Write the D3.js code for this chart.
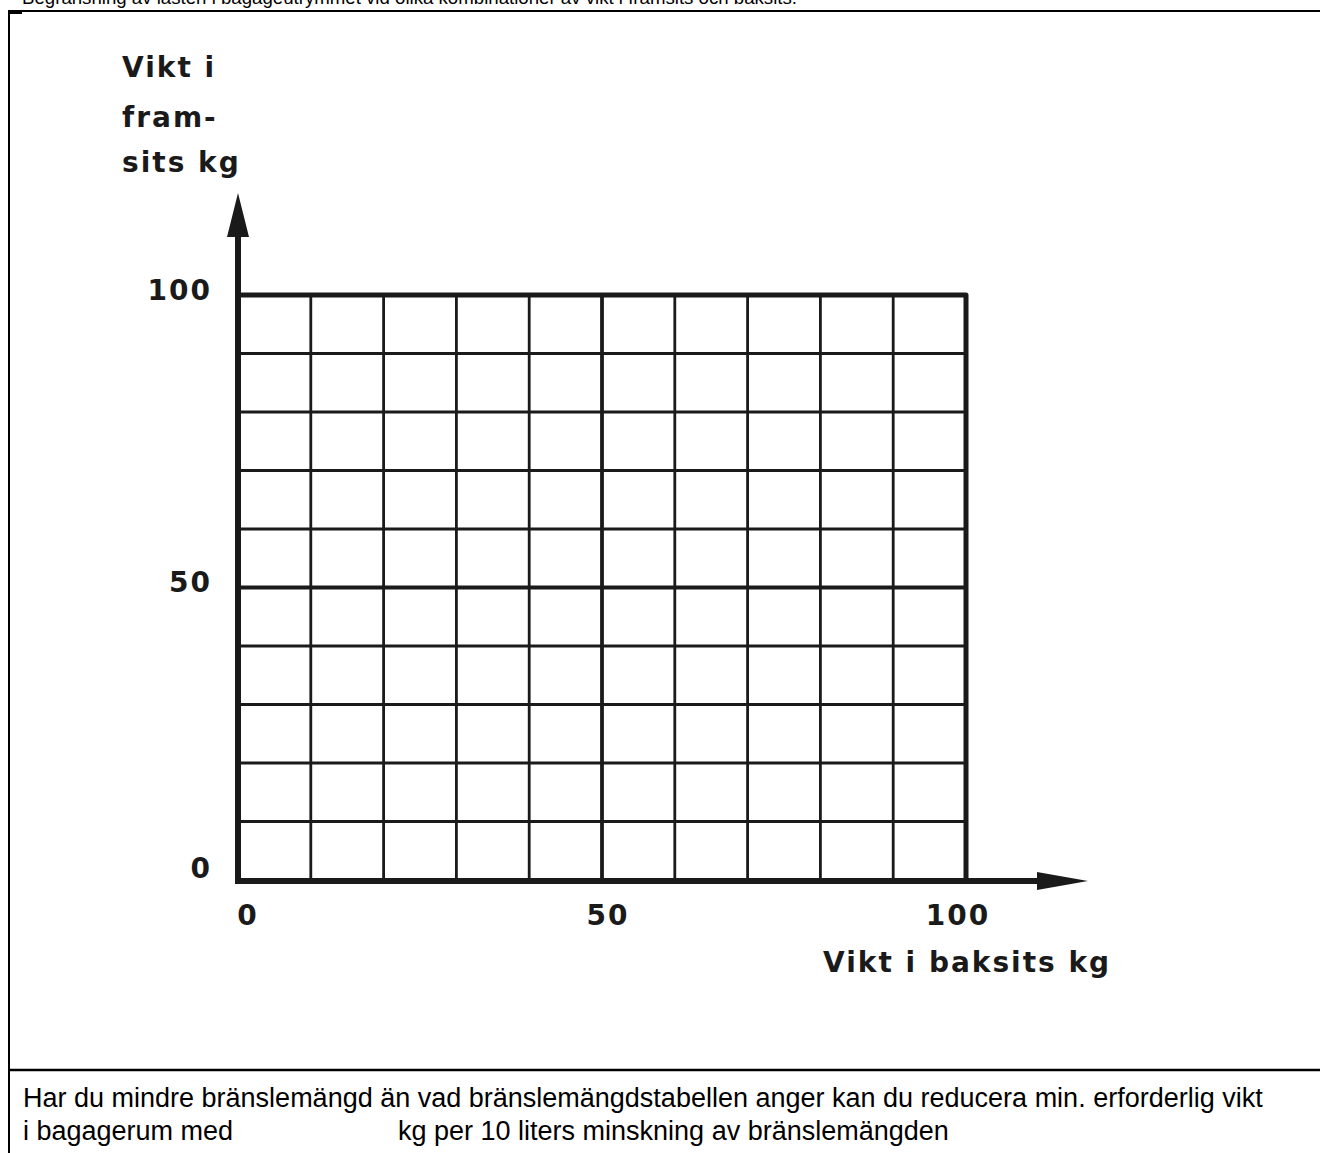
<!DOCTYPE html>
<html>
<head>
<meta charset="utf-8">
<script src="https://cdn.jsdelivr.net/npm/d3@7"></script>
<style>
	body { margin: 0; background: #fff; }
	svg { display: block; }
	.chart-text { font-family: "DejaVu Sans", sans-serif; font-weight: bold; fill: #1a1a1a; letter-spacing: 2px; }
	.note { font-family: "Liberation Sans", Arial, sans-serif; fill: #000; }
</style>
</head>
<body>
<div id="chart"></div>
<script>
var titleText = "Begränsning av lasten i bagageutrymmet vid olika kombinationer av vikt i framsits och baksits.";
var yTitleLines = ["Vikt i", "fram-", "sits kg"];
var xTitle = "Vikt i baksits kg";
var xTicks = [0, 50, 100];
var yTicks = [0, 50, 100];
var gridValues = [10, 20, 30, 40, 60, 70, 80, 90];
var midValues = [50];
var noteLine1 = "Har du mindre bränslemängd än vad bränslemängdstabellen anger kan du reducera min. erforderlig vikt";
var noteLine2a = "i bagagerum med";
var noteLine2b = "kg per 10 liters minskning av bränslemängden";

var width = 1320, height = 1153;
var ink = "#1a1a1a";

var svg = d3.select("#chart").append("svg")
	.attr("width", width)
	.attr("height", height);

var x = d3.scaleLinear().domain([0, 100]).range([238, 966]);
var y = d3.scaleLinear().domain([0, 100]).range([880, 295]);

// title, mostly cut off at the top edge
svg.append("text")
	.attr("class", "note")
	.attr("x", 22)
	.attr("y", 3.5)
	.attr("font-size", 19)
	.attr("textLength", 775)
	.attr("lengthAdjust", "spacingAndGlyphs")
	.text(titleText);

// frame
svg.append("path")
	.attr("d", "M9,1153 V11 H1320")
	.attr("fill", "none")
	.attr("stroke", "#000")
	.attr("stroke-width", 2);
svg.append("rect")
	.attr("x", 8).attr("y", 10).attr("width", 14).attr("height", 4)
	.attr("fill", "#000");
svg.append("line")
	.attr("x1", 8).attr("x2", width)
	.attr("y1", 1070).attr("y2", 1070)
	.attr("stroke", "#000")
	.attr("stroke-width", 2.5);

// grid
var grid = svg.append("g").attr("stroke", ink).attr("fill", "none");
grid.selectAll("line.v")
	.data(gridValues)
	.enter()
	.append("line")
	.attr("class", "v")
	.attr("x1", function(d) { return x(d); })
	.attr("x2", function(d) { return x(d); })
	.attr("y1", y(0))
	.attr("y2", y(100))
	.attr("stroke-width", 2.8);
grid.selectAll("line.h")
	.data(gridValues)
	.enter()
	.append("line")
	.attr("class", "h")
	.attr("x1", x(0))
	.attr("x2", x(100))
	.attr("y1", function(d) { return y(d); })
	.attr("y2", function(d) { return y(d); })
	.attr("stroke-width", 2.8);
grid.selectAll("line.mv")
	.data(midValues)
	.enter()
	.append("line")
	.attr("x1", function(d) { return x(d); })
	.attr("x2", function(d) { return x(d); })
	.attr("y1", y(0))
	.attr("y2", y(100))
	.attr("stroke-width", 3.8);
grid.selectAll("line.mh")
	.data(midValues)
	.enter()
	.append("line")
	.attr("x1", x(0))
	.attr("x2", x(100))
	.attr("y1", function(d) { return y(d); })
	.attr("y2", function(d) { return y(d); })
	.attr("stroke-width", 3.8);

// outer edges at 100
grid.append("path")
	.attr("d", "M" + x(0) + "," + y(100) + " H" + x(100) + " V" + y(0))
	.attr("stroke-width", 5)
	.attr("stroke-linejoin", "round");

// axes with arrows
var axes = svg.append("g");
axes.append("line")
	.attr("x1", x(0)).attr("x2", x(0))
	.attr("y1", y(0) + 3).attr("y2", 232)
	.attr("stroke", ink)
	.attr("stroke-width", 6);
axes.append("path")
	.attr("d", "M" + (x(0) - 11) + ",237 L" + x(0) + ",193 L" + (x(0) + 11) + ",237 Z")
	.attr("fill", ink);
axes.append("line")
	.attr("x1", x(0) - 3).attr("x2", 1042)
	.attr("y1", y(0) + 1).attr("y2", y(0) + 1)
	.attr("stroke", ink)
	.attr("stroke-width", 6);
axes.append("path")
	.attr("d", "M1037," + (y(0) - 8) + " L1088," + (y(0) + 1) + " L1037," + (y(0) + 10) + " Z")
	.attr("fill", ink);

// tick labels
var yLabelDy = { 0: -2, 50: 4, 100: 5 };
svg.selectAll("text.ylab")
	.data(yTicks)
	.enter()
	.append("text")
	.attr("class", "chart-text ylab")
	.attr("x", 212)
	.attr("y", function(d) { return y(d) + yLabelDy[d]; })
	.attr("text-anchor", "end")
	.attr("font-size", 28)
	.text(function(d) { return d; });

var xLabelDx = { 0: 10, 50: 6, 100: -8 };
svg.selectAll("text.xlab")
	.data(xTicks)
	.enter()
	.append("text")
	.attr("class", "chart-text xlab")
	.attr("x", function(d) { return x(d) + xLabelDx[d]; })
	.attr("y", 925)
	.attr("text-anchor", "middle")
	.attr("font-size", 28)
	.text(function(d) { return d; });

// axis titles
svg.selectAll("text.ytitle")
	.data(yTitleLines)
	.enter()
	.append("text")
	.attr("class", "chart-text ytitle")
	.attr("x", 122)
	.attr("y", function(d, i) { return [77, 127, 172][i]; })
	.attr("font-size", 28)
	.text(function(d) { return d; });

svg.append("text")
	.attr("class", "chart-text")
	.attr("x", 823)
	.attr("y", 972)
	.attr("font-size", 28)
	.text(xTitle);

// note below the chart
svg.append("text")
	.attr("class", "note")
	.attr("x", 23)
	.attr("y", 1107)
	.attr("font-size", 27)
	.text(noteLine1);
svg.append("text")
	.attr("class", "note")
	.attr("x", 23)
	.attr("y", 1140)
	.attr("font-size", 27)
	.text(noteLine2a);
svg.append("text")
	.attr("class", "note")
	.attr("x", 398)
	.attr("y", 1140)
	.attr("font-size", 27)
	.text(noteLine2b);
</script>
</body>
</html>
